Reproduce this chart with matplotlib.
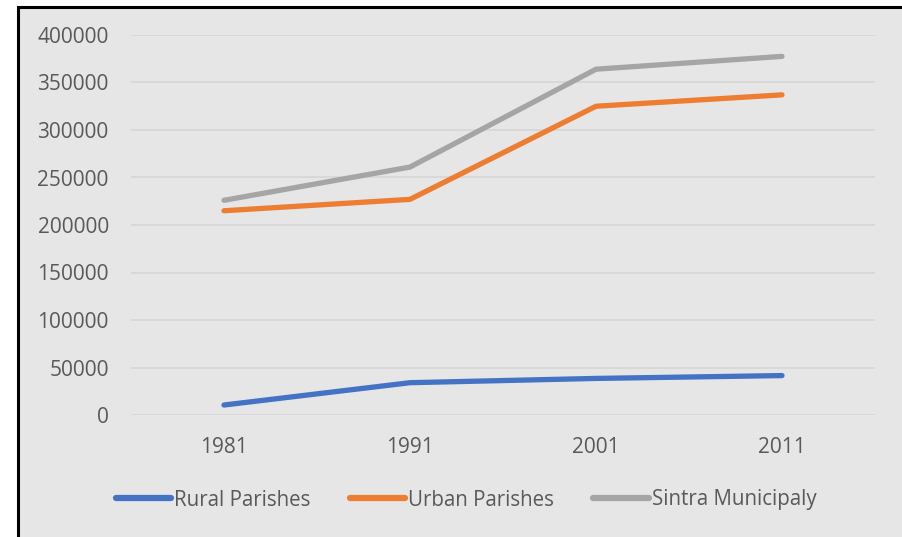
import matplotlib
matplotlib.use("Agg")
import matplotlib.pyplot as plt
from matplotlib.patches import Rectangle

years = ["1981", "1991", "2001", "2011"]
rural = [10500, 34000, 38500, 41500]
urban = [215000, 227000, 325000, 337000]
sintra = [226000, 261000, 364000, 377500]
series_names = ["Rural Parishes", "Urban Parishes", "Sintra Municipaly"]
colors = ["#4472C4", "#ED7D31", "#A5A5A5"]
yticks = list(range(0, 400001, 50000))

plt.rcParams['font.family'] = ['Open Sans', 'DejaVu Sans']

W, H = 903, 537
fig = plt.figure(figsize=(W / 100, H / 100), dpi=100)
fig.patch.set_facecolor("white")

# chart area background with black frame (top & left visible)
fx0, fy_top = 18 / W, 1 - 7 / H
fig.patches.append(Rectangle((fx0, -0.05), 1.2, fy_top + 0.05, transform=fig.transFigure,
                             facecolor="#E6E6E6", edgecolor="black", linewidth=2.2, zorder=-10))

ax = fig.add_axes([131 / W, 122 / H, 744 / W, 380 / H])
ax.set_facecolor("none")
xs = [i + 0.5 for i in range(len(years))]
for vals, name, c in zip([rural, urban, sintra], series_names, colors):
    ax.plot(xs, vals, color=c, lw=3.8, solid_capstyle="round", label=name, zorder=3)

ax.set_xlim(0, len(years))
ax.set_ylim(0, 400000)
ax.set_yticks(yticks)
ax.set_yticklabels([str(v) for v in yticks])
ax.set_xticks(xs)
ax.set_xticklabels(years)
ax.grid(axis="y", color="#D6D6D6", lw=1.2)
ax.set_axisbelow(True)
for s in ax.spines.values():
    s.set_visible(False)
ax.tick_params(axis="both", length=0, labelsize=15, labelcolor="#595959")
ax.tick_params(axis="y", pad=16)
ax.tick_params(axis="x", pad=15.5)

leg = fig.legend(loc="center", bbox_to_anchor=(466 / W, 1 - 500 / H), ncol=3,
                 frameon=False, fontsize=14.8, handlelength=2.7, columnspacing=1.9,
                 handletextpad=0.15, labelcolor="#595959")
for l in leg.get_lines():
    l.set_linewidth(4.5)
    l.set_solid_capstyle("round")

fig.savefig("out.png", dpi=100)
